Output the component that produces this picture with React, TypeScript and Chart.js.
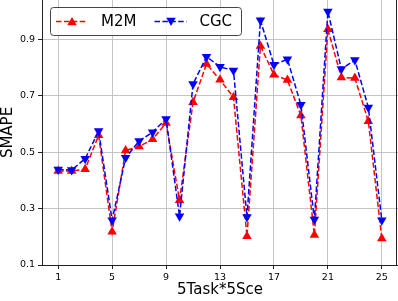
import React, { useEffect, useRef } from "react";
import { Chart, registerables } from "chart.js";

Chart.register(...registerables);

const xValues = Array.from({ length: 25 }, (_, i) => i + 1);
const m2m = [0.433, 0.433, 0.44, 0.56, 0.218, 0.506, 0.52, 0.546, 0.604, 0.33, 0.677, 0.813, 0.757, 0.695, 0.202, 0.877, 0.775, 0.756, 0.63, 0.206, 0.936, 0.765, 0.763, 0.61, 0.194];
const cgc = [0.439, 0.437, 0.477, 0.575, 0.259, 0.48, 0.54, 0.571, 0.618, 0.273, 0.742, 0.839, 0.803, 0.79, 0.27, 0.968, 0.81, 0.83, 0.668, 0.261, 0.999, 0.795, 0.827, 0.659, 0.259];
const xTicks = [1, 5, 9, 13, 17, 21, 25];
const yTicks = [0.1, 0.3, 0.5, 0.7, 0.9];
const seriesNames = ["M2M", "CGC"];

const FONT = "'DejaVu Sans', sans-serif";

function tri(ctx: CanvasRenderingContext2D, x: number, y: number, r: number, down: boolean, color: string) {
  ctx.beginPath();
  const s = down ? -1 : 1;
  ctx.moveTo(x, y - s * r);
  ctx.lineTo(x - r * 0.866, y + s * r * 0.5);
  ctx.lineTo(x + r * 0.866, y + s * r * 0.5);
  ctx.closePath();
  ctx.fillStyle = color;
  ctx.fill();
}

const legendPlugin = {
  id: "insideLegend",
  afterDraw(chart: any) {
    const ctx: CanvasRenderingContext2D = chart.ctx;
    const a = chart.chartArea;
    ctx.save();
    // right spine
    ctx.beginPath();
    ctx.strokeStyle = "#222";
    ctx.lineWidth = 1;
    ctx.moveTo(a.right - 1.5, a.top);
    ctx.lineTo(a.right - 1.5, a.bottom);
    ctx.stroke();

    const x0 = a.left + 8.5;
    const y0 = a.top + 7.5;
    const w = 191;
    const h = 28;
    ctx.beginPath();
    const r = 3;
    ctx.moveTo(x0 + r, y0);
    ctx.lineTo(x0 + w - r, y0);
    ctx.quadraticCurveTo(x0 + w, y0, x0 + w, y0 + r);
    ctx.lineTo(x0 + w, y0 + h - r);
    ctx.quadraticCurveTo(x0 + w, y0 + h, x0 + w - r, y0 + h);
    ctx.lineTo(x0 + r, y0 + h);
    ctx.quadraticCurveTo(x0, y0 + h, x0, y0 + h - r);
    ctx.lineTo(x0, y0 + r);
    ctx.quadraticCurveTo(x0, y0, x0 + r, y0);
    ctx.closePath();
    ctx.fillStyle = "rgba(255,255,255,0.85)";
    ctx.fill();
    ctx.strokeStyle = "#444";
    ctx.lineWidth = 1;
    ctx.stroke();

    const cy = y0 + 14;
    const entries = [
      { lx: x0 + 5.5, ex: x0 + 36.5, mx: x0 + 21.5, tx: x0 + 50.5, color: "#ff0000", down: false, label: seriesNames[0] },
      { lx: x0 + 104, ex: x0 + 136, mx: x0 + 120.5, tx: x0 + 149, color: "#0000ff", down: true, label: seriesNames[1] },
    ];
    for (const e of entries) {
      ctx.beginPath();
      ctx.setLineDash([5.5, 2.4]);
      ctx.strokeStyle = e.color;
      ctx.lineWidth = 1.5;
      ctx.moveTo(e.lx, cy);
      ctx.lineTo(e.ex, cy);
      ctx.stroke();
      ctx.setLineDash([]);
      tri(ctx, e.mx, cy + (e.down ? -1 : 1), 5.5, e.down, e.color);
      ctx.fillStyle = "#000";
      ctx.font = `15px ${FONT}`;
      ctx.textBaseline = "middle";
      ctx.textAlign = "left";
      ctx.fillText(e.label, e.tx, cy + 1);
    }
    ctx.restore();
  },
};

export default function App() {
  const ref = useRef<HTMLCanvasElement | null>(null);
  useEffect(() => {
    if (!ref.current) return;
    const chart = new Chart(ref.current, {
      type: "line",
      data: {
        datasets: [
          {
            label: seriesNames[0],
            data: xValues.map((x, i) => ({ x, y: m2m[i] })),
            borderColor: "#ff0000",
            backgroundColor: "#ff0000",
            borderWidth: 1.5,
            borderDash: [5.5, 2.4],
            pointStyle: "triangle",
            pointRadius: 5.5,
            pointBorderWidth: 0,
            pointBackgroundColor: "#ff0000",
            tension: 0,
            order: 1,
          },
          {
            label: seriesNames[1],
            data: xValues.map((x, i) => ({ x, y: cgc[i] })),
            borderColor: "#0000ff",
            backgroundColor: "#0000ff",
            borderWidth: 1.5,
            borderDash: [5.5, 2.4],
            pointStyle: "triangle",
            pointRotation: 180,
            pointRadius: 5.5,
            pointBorderWidth: 0,
            pointBackgroundColor: "#0000ff",
            tension: 0,
            order: 0,
          },
        ],
      },
      options: {
        responsive: false,
        animation: false,
        layout: { padding: 0, autoPadding: false },
        plugins: { legend: { display: false }, tooltip: { enabled: false } },
        scales: {
          x: {
            type: "linear",
            min: -0.2,
            max: 26.2,
            afterBuildTicks: (s: any) => {
              s.ticks = xTicks.map((v) => ({ value: v }));
            },
            afterFit: (s: any) => {
              s.height = 36;
              s.paddingLeft = 0;
              s.paddingRight = 0;
            },
            ticks: {
              color: "#000",
              font: { family: FONT, size: 9.5 },
              padding: 3,
              maxRotation: 0,
              autoSkip: false,
              callback: (v: any) => String(v),
            },
            grid: { color: "#c4c4c4", lineWidth: 1, tickColor: "#222", tickLength: 4 },
            border: { color: "#222", width: 1 },
            title: {
              display: true,
              text: "5Task*5Sce",
              color: "#000",
              font: { family: FONT, size: 15 },
              padding: { top: 0, bottom: 2 },
            },
          },
          y: {
            type: "linear",
            min: 0.1,
            max: 1.04,
            afterBuildTicks: (s: any) => {
              s.ticks = yTicks.map((v) => ({ value: v }));
            },
            afterFit: (s: any) => {
              s.width = 42;
              s.paddingTop = 0;
              s.paddingBottom = 0;
            },
            ticks: {
              color: "#000",
              font: { family: FONT, size: 9.5 },
              padding: 3,
              callback: (v: any) => Number(v).toFixed(1),
            },
            grid: { color: "#c4c4c4", lineWidth: 1, tickColor: "#222", tickLength: 4 },
            border: { color: "#222", width: 1 },
            title: {
              display: true,
              text: "SMAPE",
              color: "#000",
              font: { family: FONT, size: 15 },
              padding: { top: -1, bottom: 0 },
            },
          },
        },
      },
      plugins: [legendPlugin],
    });
    return () => chart.destroy();
  }, []);
  return (
    <div style={{ position: "absolute", left: 0, top: 0, width: 398, height: 301, background: "#fff" }}>
      <canvas ref={ref} width={398} height={301} style={{ width: 398, height: 301, display: "block" }} />
    </div>
  );
}
